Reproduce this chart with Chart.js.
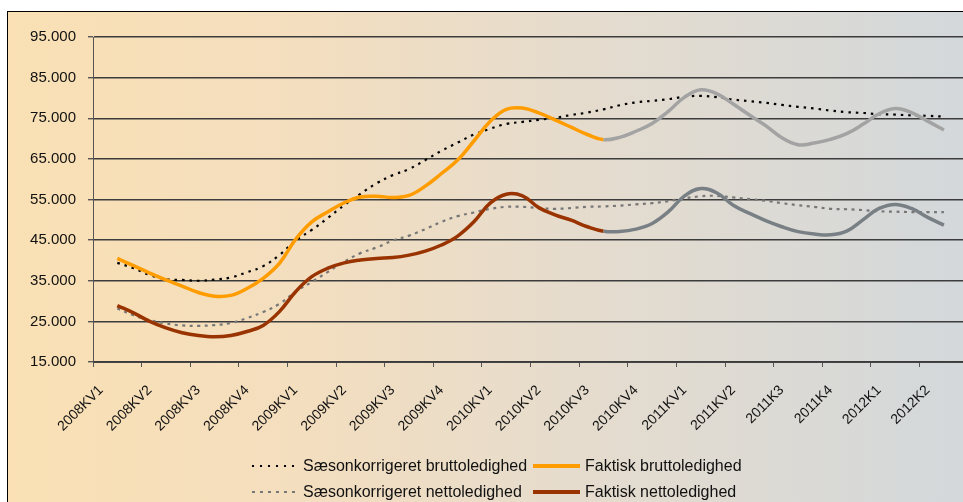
<!DOCTYPE html>
<html>
<head>
<meta charset="utf-8">
<script src="https://cdn.jsdelivr.net/npm/chart.js@4"></script>
<style>
  html, body { margin: 0; padding: 0; background: #fff; }
  #wrap { position: relative; width: 963px; height: 502px; overflow: hidden; }
  #bg { position: absolute; left: 7px; top: 11px; width: 990px; height: 500px;
        border-top: 1px solid #000; border-left: 1px solid #000;
        background: linear-gradient(to right, #FAE0B4 0px, #F3DEBF 300px, #E6DCCD 560px, #D3D8DB 956px); }
  #c { position: absolute; left: 0; top: 0; }
  .lg { position: absolute; font-family: "Liberation Sans", Arial, sans-serif; font-size: 16px; color: #111; white-space: nowrap; line-height: 18px; }
  .sw { position: absolute; height: 3px; }
</style>
</head>
<body>
<div id="wrap">
  <div id="bg"></div>
  <canvas id="c" width="987" height="502"></canvas>
  <div id="legend"></div>
</div>
<script>
// ---- data ----
const quarterLabels = ["2008KV1","2008KV2","2008KV3","2008KV4","2009KV1","2009KV2","2009KV3","2009KV4",
  "2010KV1","2010KV2","2010KV3","2010KV4","2011KV1","2011KV2","2011K3","2011K4","2012K1","2012K2"];

// monthly series (Jan 2008 .. Jun 2012); null = no value
const saesonBrutto = [null,39400,38100,36400,35400,35200,35000,35300,35800,37100,38600,41300,44900,47500,50500,53600,56400,59000,
  61000,62500,64700,67000,69000,71000,72400,73600,74100,74600,75100,75800,76400,77200,78200,78900,79300,79700,80300,80500,
  80200,79600,79200,78800,78300,77800,77400,76900,76500,76300,76000,75900,75700,75600,75400,null];
const faktiskBrutto = [null,40500,38700,36900,35200,33700,32100,31200,31400,33100,35600,39300,45200,49500,52000,54200,55600,55800,
  55500,56000,58300,61400,64700,69400,74200,77200,77500,76300,74600,72800,71000,69700,70300,71800,73700,76700,80200,82000,
  81000,78500,75800,73200,70200,68500,68900,69800,71200,73500,76100,77400,76400,74300,72100,null];
const saesonNetto = [null,28200,26500,25300,24500,24000,23900,24100,24600,25800,27300,29300,32300,34700,37200,39700,41800,43200,
  44900,46100,47700,49500,50900,51800,52700,53200,53200,52900,52700,52900,53200,53300,53500,53800,54100,54600,55300,55800,
  55900,55500,55100,54700,54100,53600,53200,52700,52600,52400,52100,52000,51900,51900,51900,null];
const faktiskNetto = [null,28900,27100,25000,23400,22200,21500,21200,21500,22500,24000,27400,32300,36000,38100,39400,40100,40500,
  40700,41300,42300,43800,46000,49500,54100,56300,55900,53000,51200,49900,48300,47200,47100,47700,49100,52000,55900,57700,
  56600,53600,51600,49800,48300,47100,46500,46300,47200,50000,52800,53800,52800,50600,48700,null];
const forecastStart = 31; // index where the actual series turn grey
const yTicks = { min: 15000, max: 95000, step: 10000 };
const seriesNames = ["Sæsonkorrigeret bruttoledighed","Faktisk bruttoledighed","Sæsonkorrigeret nettoledighed","Faktisk nettoledighed"];

// monthly categories built from the quarter labels
const months = [];
quarterLabels.forEach(q => { for (let m = 1; m <= 3; m++) months.push(q + "-" + m); });

function fmt(v) { return String(v).replace(/\B(?=(\d{3})+(?!\d))/g, "."); }

const FONT = "'Liberation Sans', Arial, sans-serif";
const C_ORANGE = "#FF9C00", C_BROWN = "#993300", C_GREY1 = "#A3A3A3", C_GREY2 = "#798085";

const ctx = document.getElementById("c").getContext("2d");
new Chart(ctx, {
  type: "line",
  data: {
    labels: months,
    datasets: [
      { label: seriesNames[0], data: saesonBrutto, borderColor: "#000", borderWidth: 2.2, borderDash: [2.5, 5], order: 2 },
      { label: seriesNames[1], data: faktiskBrutto, borderColor: C_ORANGE, borderWidth: 3.5, order: 1,
        segment: { borderColor: c => c.p0DataIndex >= forecastStart ? C_GREY1 : undefined } },
      { label: seriesNames[2], data: saesonNetto, borderColor: "#777", borderWidth: 2.2, borderDash: [3, 4.5], order: 2 },
      { label: seriesNames[3], data: faktiskNetto, borderColor: C_BROWN, borderWidth: 3.5, order: 1,
        segment: { borderColor: c => c.p0DataIndex >= forecastStart ? C_GREY2 : undefined } }
    ]
  },
  options: {
    responsive: false,
    animation: false,
    events: [],
    layout: { padding: { top: 37, left: 0, right: 0, bottom: 0 } },
    elements: { point: { radius: 0 }, line: { tension: 0.4, fill: false, borderCapStyle: "butt" } },
    plugins: { legend: { display: false }, tooltip: { enabled: false } },
    scales: {
      x: {
        type: "category",
        offset: true,
        afterFit: s => { s.height = 140; },
        grid: { offset: true, drawOnChartArea: false, drawTicks: true, tickLength: 5,
                tickColor: c => (c.index % 3 === 0 ? "#555" : "rgba(0,0,0,0)") },
        border: { display: true, color: "#444", width: 1 },
        ticks: {
          autoSkip: false, minRotation: 45, maxRotation: 45, padding: 15,
          color: "#111", font: { family: FONT, size: 14 },
          callback: (v, i) => (i % 3 === 0 ? quarterLabels[i / 3] : "")
        }
      },
      y: {
        min: yTicks.min, max: yTicks.max,
        afterFit: s => { s.width = 93; },
        grid: { color: "#3c3c3c", lineWidth: 1.4, tickLength: 5, tickColor: "#555", drawTicks: true },
        border: { display: true, color: "#555", width: 1 },
        ticks: { stepSize: yTicks.step, padding: 12, color: "#111", font: { family: FONT, size: 15 },
                 callback: v => fmt(v) }
      }
    }
  }
});

// ---- legend (two rows, two columns) ----
const legendDefs = [
  { name: seriesNames[0], swatch: "repeating-linear-gradient(to right,#000 0 2.5px,transparent 2.5px 8px)", h: 2.5, x: 252, y: 466, tx: 303 },
  { name: seriesNames[1], swatch: C_ORANGE, h: 4, x: 533, y: 466, tx: 585 },
  { name: seriesNames[2], swatch: "repeating-linear-gradient(to right,#777 0 3px,transparent 3px 8px)", h: 2.5, x: 252, y: 492, tx: 303 },
  { name: seriesNames[3], swatch: C_BROWN, h: 4, x: 533, y: 492, tx: 585 }
];
const lg = document.getElementById("legend");
legendDefs.forEach(d => {
  const sw = document.createElement("div");
  sw.className = "sw";
  sw.style.left = d.x + "px"; sw.style.width = "47px";
  sw.style.top = (d.y - d.h / 2) + "px"; sw.style.height = d.h + "px";
  sw.style.background = d.swatch;
  lg.appendChild(sw);
  const t = document.createElement("div");
  t.className = "lg";
  t.style.left = d.tx + "px"; t.style.top = (d.y - 9) + "px";
  t.textContent = d.name;
  lg.appendChild(t);
});
</script>
</body>
</html>
